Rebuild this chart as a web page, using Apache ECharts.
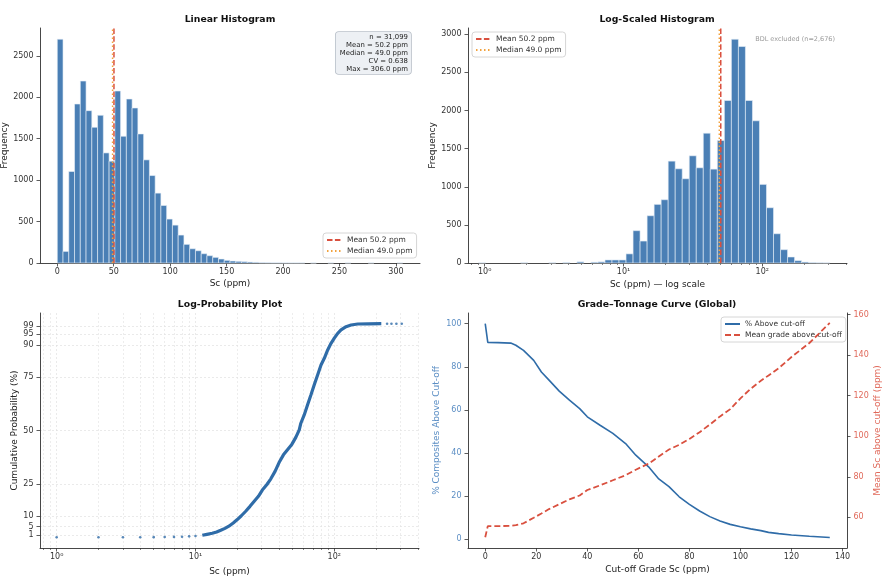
<!DOCTYPE html>
<html>
<head>
<meta charset="utf-8">
<title>Sc distribution</title>
<script src="https://cdn.jsdelivr.net/npm/echarts@6/dist/echarts.min.js"></script>
<style>html,body{margin:0;padding:0;background:#fff;}</style>
</head>
<body>
<div id="main" style="width:886px;height:580px;"></div>
<script type="text/javascript">
// summary numbers shown in the panels
var nTotal = 31099, nBDL = 2676;
var meanSc = 50.2, medianSc = 49.0, cvSc = 0.638, maxSc = 306.0;

// linear histogram: 60 bins, 5.1 ppm wide, from 0
var linBinStart = 0, linBinWidth = 5.1;
var linCounts = [2700, 140, 1104, 1918, 2195, 1838, 1637, 1782, 1328, 1228,
                 2075, 1529, 1978, 1870, 1557, 1244, 1055, 843, 694, 530,
                 457, 337, 225, 172, 148, 112, 88, 68, 48, 32,
                 24, 20, 16, 12, 8, 4, 3, 2, 2, 1,
                 1, 1, 1, 0, 1, 0, 0, 1, 0, 0,
                 1, 0, 0, 0, 1, 0, 0, 0, 0, 1];

// log histogram (BDL excluded): 50 bins in log10(ppm)
var logBinStart = -0.044, logBinWidth = 0.05059;
var logCounts = [2, 0, 0, 0, 0, 0, 3, 0, 0, 0,
                 3, 0, 5, 0, 15, 0, 10, 15, 40, 40,
                 40, 120, 424, 288, 620, 769, 830, 1336, 1236, 1105,
                 1406, 1249, 1703, 1231, 1607, 2131, 2935, 2839, 2131, 1865,
                 1031, 725, 384, 175, 79, 31, 13, 5, 3, 2];

// log-probability plot
var probLowX = [1, 2, 3, 4, 5, 6, 7, 8, 9, 10];
var probLowY = [0.0, 0.01, 0.02, 0.03, 0.08, 0.15, 0.2, 0.3, 0.45, 0.62];
var probCurveX = [11.2, 12.1, 13.2, 14.2, 15.2, 16.3, 17.4, 18.7, 20.0, 21.4,
                  23.0, 24.7, 26.4, 28.4, 30.3, 32.6, 34.9, 37.5, 40.0, 43.0,
                  46.0, 49.4, 52.8, 55.9, 57.4, 60.7, 64.2, 67.9, 71.7, 75.8,
                  80.2, 84.7, 89.6, 94.7, 100, 105.8, 111.8, 121.5, 132, 147.5,
                  175, 218];
var probCurveY = [0.95, 1.4, 1.9, 2.5, 3.3, 4.2, 5.2, 6.7, 8.3, 10.1,
                  12.2, 14.5, 16.8, 19.2, 22.1, 24.6, 27.4, 31.0, 35.0, 38.6,
                  41.0, 43.5, 46.8, 50.3, 53.4, 57.3, 62.0, 66.7, 71.4, 76.0,
                  80.7, 83.8, 87.7, 90.8, 93.2, 95.5, 97.1, 98.6, 99.4, 99.85,
                  99.95, 99.98];
var probTailX = [240, 258, 280, 306];
var probTailY = [99.99, 99.99, 100, 100];
var probTicks = [1, 5, 10, 25, 50, 75, 90, 95, 99];

// grade-tonnage curve
var cutoffs   = [0, 1, 5, 10, 12, 15, 19, 22, 25, 29, 33, 37, 40, 45, 50, 55, 59,
                 64, 68, 72, 76, 80, 84, 88, 92, 96, 100, 104, 108, 111, 115, 120, 127, 135];
var pctAbove  = [100, 91.3, 91.2, 91.0, 90.0, 87.6, 83.0, 77.6, 73.8, 68.7, 64.5, 60.6, 56.8,
                 52.9, 49.1, 44.4, 39.0, 33.6, 28.0, 24.4, 19.7, 16.2, 13.1, 10.5, 8.5, 6.9,
                 5.8, 4.8, 4.0, 3.2, 2.6, 2.0, 1.4, 0.8];
var meanAbove = [50.2, 55.7, 55.7, 55.8, 56.2, 57.1, 59.8, 61.9, 64.1, 66.5, 68.9, 70.8, 73.5,
                 75.8, 78.3, 80.8, 83.5, 86.5, 90.0, 93.5, 95.8, 98.7, 102.0, 105.8, 109.8, 113.4,
                 118.7, 123.4, 127.4, 130.0, 133.6, 139.1, 146.0, 155.9];

var FONT = 'DejaVu Sans';
var barColor = '#4a7fb5', lineBlue = '#2f6ca8', meanColor = '#d9503f', medColor = '#f2a23d';
var axisColor = '#333333';

var linYMax = 2835, logYMax = 3082;
var logXMin = -0.12, logXMax = 2.61;

var linData = [];
linCounts.forEach(function (n, i) {
    if (n > 0) linData.push([linBinStart + i * linBinWidth, linBinStart + (i + 1) * linBinWidth, n]);
});
var logData = [];
logCounts.forEach(function (n, i) {
    if (n > 0) logData.push([logBinStart + i * logBinWidth, logBinStart + (i + 1) * logBinWidth, n]);
});

function log10(v) { return Math.log(v) / Math.LN10; }
function pairs(xs, ys, fx) {
    return xs.map(function (x, i) { return [fx ? fx(x) : x, ys[i]]; });
}

var minorLog = [];
for (var e = -1; e <= 2; e++) {
    for (var k = 2; k <= 9; k++) minorLog.push(log10(k * Math.pow(10, e)));
}
var sup = {'0': '\u2070', '1': '\u00b9', '2': '\u00b2'};
function powLabel(v) { return '10' + sup[String(Math.round(v))]; }
function plain(v) { return String(v); }

function histItem(params, api) {
    var p0 = api.coord([api.value(0), api.value(2)]);
    var p1 = api.coord([api.value(1), 0]);
    return {
        type: 'rect',
        shape: {x: p0[0], y: p0[1], width: p1[0] - p0[0], height: p1[1] - p0[1]},
        style: {fill: barColor, stroke: '#e8f0f8', lineWidth: 0.6}
    };
}

function range(a, b, s) { var r = []; for (var v = a; v <= b + 1e-9; v += s) r.push(v); return r; }

var tickLabel = {fontFamily: FONT, fontSize: 8, color: '#333'};
function xAx(grid, min, max, ticks, fmt, name, gap, extra) {
    var ax = {
        type: 'value', gridIndex: grid, min: min, max: max, position: 'bottom',
        axisLine: {show: true, onZero: false, lineStyle: {color: axisColor, width: 0.9}},
        axisTick: {show: true, length: 3.5, customValues: ticks, lineStyle: {color: axisColor, width: 0.8}},
        axisLabel: Object.assign({customValues: ticks, formatter: fmt, margin: 5}, tickLabel),
        splitLine: {show: false},
        name: name, nameLocation: 'middle', nameGap: gap,
        nameTextStyle: {fontFamily: FONT, fontSize: 9, color: '#222'}
    };
    return Object.assign(ax, extra || {});
}
function yAx(grid, min, max, ticks, fmt, name, gap, extra) {
    var ax = {
        type: 'value', gridIndex: grid, min: min, max: max,
        axisLine: {show: true, onZero: false, lineStyle: {color: axisColor, width: 0.9}},
        axisTick: {show: true, length: 3.5, customValues: ticks, lineStyle: {color: axisColor, width: 0.8}},
        axisLabel: Object.assign({customValues: ticks, formatter: fmt, margin: 6.5}, tickLabel),
        splitLine: {show: false},
        name: name, nameLocation: 'middle', nameGap: gap,
        nameTextStyle: {fontFamily: FONT, fontSize: 9, color: '#222'}
    };
    return Object.assign(ax, extra || {});
}
function minorAx(grid, withGrid) {
    return {
        type: 'value', gridIndex: grid, min: logXMin, max: logXMax, position: 'bottom', offset: 0,
        axisLine: {show: false, onZero: false},
        axisTick: {show: true, length: 2, customValues: minorLog, lineStyle: {color: axisColor, width: 0.6}},
        axisLabel: {show: false},
        splitLine: {show: withGrid, lineStyle: {color: '#e2e2e2', width: 0.6, type: [2, 2]}}
    };
}
var gridLine = {show: true, lineStyle: {color: '#dcdcdc', width: 0.6, type: [2, 2]}};

function legendBox(left, top, names, z) {
    return {
        data: names, orient: 'vertical', left: left, top: top, z: z,
        backgroundColor: '#ffffff', borderColor: '#cccccc', borderWidth: 0.8, borderRadius: 3,
        padding: [3, 4, 3, 3], itemGap: 3, itemWidth: 15, itemHeight: 9,
        itemStyle: {color: 'rgba(0,0,0,0)', borderWidth: 0, opacity: 0},
        textStyle: {fontFamily: FONT, fontSize: 7.5, color: '#333'}
    };
}

var statsText = ['n = ' + nTotal.toLocaleString('en-US'),
                 'Mean = ' + meanSc.toFixed(1) + ' ppm',
                 'Median = ' + medianSc.toFixed(1) + ' ppm',
                 'CV = ' + cvSc.toFixed(3),
                 'Max = ' + maxSc.toFixed(1) + ' ppm'].join('\n');

function vline(name, x, ymax, xi, yi, color, dash) {
    return {
        name: name, type: 'line', xAxisIndex: xi, yAxisIndex: yi,
        data: [[x, 0], [x, ymax]], symbol: 'none', z: 5, silent: true,
        lineStyle: {color: color, width: 1.5, type: dash}, itemStyle: {color: color}
    };
}

var myChart = echarts.init(document.getElementById('main'), null, {renderer: 'canvas'});

var titleStyle = {fontFamily: FONT, fontSize: 9.3, fontWeight: 'bold', color: '#111'};
var option = {
    animation: false,
    backgroundColor: '#ffffff',
    title: [
        {text: 'Linear Histogram', left: 230, top: 15, textAlign: 'center', padding: 0, textStyle: titleStyle},
        {text: 'Log-Scaled Histogram', left: 657, top: 15, textAlign: 'center', padding: 0, textStyle: titleStyle},
        {text: 'Log-Probability Plot', left: 230, top: 300, textAlign: 'center', padding: 0, textStyle: titleStyle},
        {text: 'Grade\u2013Tonnage Curve (Global)', left: 657, top: 300, textAlign: 'center', padding: 0, textStyle: titleStyle}
    ],
    grid: [
        {left: 40, top: 28, width: 380, height: 235, outerBoundsMode: 'none'},
        {left: 468, top: 28, width: 379, height: 235, outerBoundsMode: 'none'},
        {left: 40, top: 313, width: 379, height: 235, outerBoundsMode: 'none'},
        {left: 468, top: 313, width: 379, height: 235, outerBoundsMode: 'none'}
    ],
    legend: [
        legendBox(323, 233, ['Mean 50.2 ppm', 'Median 49.0 ppm'], 6),
        legendBox(472, 32, ['Mean 50.2 ppm', 'Median 49.0 ppm'], 6),
        // the dashed mean-grade line runs over this legend in the original
        legendBox(721, 317, ['% Above cut-off', 'Mean grade above cut-off'], 1)
    ],
    xAxis: [
        xAx(0, -15.3, 321.3, range(0, 300, 50), plain, 'Sc (ppm)', 16),
        xAx(1, logXMin, logXMax, [0, 1, 2], powLabel, 'Sc (ppm) \u2014 log scale', 17),
        minorAx(1, false),
        xAx(2, logXMin, logXMax, [0, 1, 2], powLabel, 'Sc (ppm)', 19, {splitLine: gridLine}),
        minorAx(2, true),
        xAx(3, -6.75, 141.75, range(0, 140, 20), plain, 'Cut-off Grade Sc (ppm)', 17.5)
    ],
    yAxis: [
        yAx(0, 0, linYMax, range(0, 2500, 500), plain, 'Frequency', 29.5),
        yAx(1, 0, logYMax, range(0, 3000, 500), plain, 'Frequency', 30.5),
        yAx(2, -5, 105, probTicks, plain, 'Cumulative Probability (%)', 20.5, {splitLine: gridLine}),
        yAx(3, -4.06, 104.96, range(0, 100, 20), plain, '% Composites Above Cut-off', 26.5, {
            axisLabel: Object.assign({customValues: range(0, 100, 20), formatter: plain, margin: 6.5}, tickLabel, {color: '#5b8ec4'}),
            nameTextStyle: {fontFamily: FONT, fontSize: 9, color: '#5b8ec4'}
        }),
        yAx(3, 44.9, 160.8, range(60, 160, 20), plain, 'Mean Sc above cut-off (ppm)', 25, {
            position: 'right',
            axisLabel: Object.assign({customValues: range(60, 160, 20), formatter: plain, margin: 6.5}, tickLabel, {color: '#e0695a'}),
            nameTextStyle: {fontFamily: FONT, fontSize: 9, color: '#e0695a'}
        })
    ],
    graphic: [
        {type: 'text', x: 411, y: 32, z: 10,
         style: {text: statsText, align: 'right', verticalAlign: 'top', fontFamily: FONT, fontSize: 6.9,
                 lineHeight: 8, fill: '#222', backgroundColor: '#edf0f4', borderColor: '#b9c0c9',
                 borderWidth: 0.8, borderRadius: 3, padding: [1, 3, 1, 4]}},
        {type: 'text', x: 835, y: 39, z: 10,
         style: {text: 'BDL excluded (n=' + nBDL.toLocaleString('en-US') + ')', align: 'right',
                 verticalAlign: 'middle', fontFamily: FONT, fontSize: 6.5, fill: '#9a9a9a'}}
    ],
    series: [
        {type: 'custom', name: 'linHist', xAxisIndex: 0, yAxisIndex: 0, renderItem: histItem,
         data: linData, encode: {x: [0, 1], y: 2}, silent: true},
        vline('Mean 50.2 ppm', meanSc, linYMax, 0, 0, meanColor, [5.5, 2.4]),
        vline('Median 49.0 ppm', medianSc, linYMax, 0, 0, medColor, [1.5, 2.5]),
        {type: 'custom', name: 'logHist', xAxisIndex: 1, yAxisIndex: 1, renderItem: histItem,
         data: logData, encode: {x: [0, 1], y: 2}, silent: true},
        vline('Mean 50.2 ppm', log10(meanSc), logYMax, 1, 1, meanColor, [5.5, 2.4]),
        vline('Median 49.0 ppm', log10(medianSc), logYMax, 1, 1, medColor, [1.5, 2.5]),
        {type: 'scatter', name: 'probLow', xAxisIndex: 3, yAxisIndex: 2, symbolSize: 2.6,
         itemStyle: {color: lineBlue}, data: pairs(probLowX, probLowY, log10)},
        {type: 'line', name: 'probCurve', xAxisIndex: 3, yAxisIndex: 2, symbol: 'none',
         lineStyle: {color: lineBlue, width: 3.2}, data: pairs(probCurveX, probCurveY, log10)},
        {type: 'scatter', name: 'probTail', xAxisIndex: 3, yAxisIndex: 2, symbolSize: 2.6,
         itemStyle: {color: lineBlue}, data: pairs(probTailX, probTailY, log10)},
        {type: 'line', name: '% Above cut-off', xAxisIndex: 5, yAxisIndex: 3, symbol: 'none',
         lineStyle: {color: lineBlue, width: 1.6}, itemStyle: {color: lineBlue}, data: pairs(cutoffs, pctAbove)},
        {type: 'line', name: 'Mean grade above cut-off', xAxisIndex: 5, yAxisIndex: 4, symbol: 'none', z: 3,
         lineStyle: {color: meanColor, width: 1.8, type: [6, 3]}, itemStyle: {color: meanColor}, data: pairs(cutoffs, meanAbove)}
    ]
};

myChart.setOption(option);
</script>
</body>
</html>
